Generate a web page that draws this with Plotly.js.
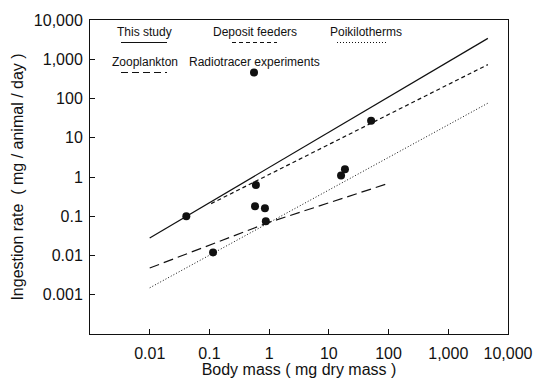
<!DOCTYPE html>
<html>
<head>
<meta charset="utf-8">
<script src="https://cdn.plot.ly/plotly-3.0.1.min.js"></script>
<style>html,body{margin:0;padding:0;background:#fff;}#chart{width:536px;height:378px;}</style>
</head>
<body>
<div id="chart"></div>
<script>
// Regression lines (body mass mg, ingestion rate mg/animal/day)
const thisStudyX = [0.01, 4600];
const thisStudyY = [0.028, 3400];
const depositX = [0.107, 4600];
const depositY = [0.21, 730];
const poikiloX = [0.01, 4600];
const poikiloY = [0.0015, 76];
const zooX = [0.01, 1, 100];
const zooY = [0.0048, 0.07, 0.69];
// Radiotracer experiments (points)
const radioX = [0.041, 0.115, 0.6, 0.58, 0.85, 0.88, 16, 18.6, 51];
const radioY = [0.1, 0.012, 0.63, 0.18, 0.16, 0.075, 1.1, 1.58, 27];
// Tick labels
const xTickVals = [0.01, 0.1, 1, 10, 100, 1000, 10000];
const xTickText = ["0.01", "0.1", "1", "10", "100", "1,000", "10,000"];
const yTickVals = [0.001, 0.01, 0.1, 1, 10, 100, 1000, 10000];
const yTickText = ["0.001", "0.01", "0.1", "1", "10", "100", "1,000", "10,000"];
// Legend labels
const legendNames = ["This study", "Deposit feeders", "Poikilotherms", "Zooplankton", "Radiotracer experiments"];

const FONT = "Liberation Sans, Arial, Helvetica, sans-serif";
const INK = "#111";

const traces = [
  {x: thisStudyX, y: thisStudyY, mode: "lines", line: {color: INK, width: 1.2}, name: legendNames[0]},
  {x: depositX, y: depositY, mode: "lines", line: {color: INK, width: 1.2, dash: "4px,3px"}, name: legendNames[1]},
  {x: poikiloX, y: poikiloY, mode: "lines", line: {color: INK, width: 1, dash: "1px,2px"}, name: legendNames[2]},
  {x: zooX, y: zooY, mode: "lines", line: {color: INK, width: 1.2, dash: "10px,5px"}, name: legendNames[3]},
  {x: radioX, y: radioY, mode: "markers", marker: {color: INK, size: 8}, name: legendNames[4]}
];

// Legend built from annotations and shapes (paper coordinates)
const L = 90, R = 508, T = 20, B = 334, W = 536, H = 378;
const px = v => (v - L) / (R - L);
const py = v => (B - v) / (B - T);

const legendItems = [
  {cx: 144.5, ty: 31.5, ly: 42.5, x0: 121, x1: 167, dash: "solid", w: 1.2, text: legendNames[0]},
  {cx: 254.5, ty: 31.5, ly: 42.5, x0: 232, x1: 277, dash: "4px,3px", w: 1.2, text: legendNames[1]},
  {cx: 366.3, ty: 31.5, ly: 42.5, x0: 337, x1: 388, dash: "1px,2px", w: 1, text: legendNames[2]},
  {cx: 144.5, ty: 61.5, ly: 72.5, x0: 121, x1: 167, dash: "7px,4px", w: 1.2, text: legendNames[3]}
];

const annotations = legendItems.map(it => ({
  xref: "paper", yref: "paper", x: px(it.cx), y: py(it.ty), text: it.text,
  showarrow: false, xanchor: "center", yanchor: "middle",
  font: {family: FONT, size: 12, color: INK}
}));
annotations.push({
  xref: "paper", yref: "paper", x: px(254.7), y: py(61.5), text: legendNames[4],
  showarrow: false, xanchor: "center", yanchor: "middle",
  font: {family: FONT, size: 12, color: INK}
});

const shapes = legendItems.map(it => ({
  type: "line", xref: "paper", yref: "paper",
  x0: px(it.x0), x1: px(it.x1), y0: py(it.ly), y1: py(it.ly),
  line: {color: INK, width: it.w, dash: it.dash}
}));
shapes.push({
  type: "circle", xref: "paper", yref: "paper",
  xsizemode: "pixel", ysizemode: "pixel",
  xanchor: px(254), yanchor: py(72.5),
  x0: -4, x1: 4, y0: -4, y1: 4,
  fillcolor: INK, line: {color: INK, width: 0}
});

const layout = {
  width: W, height: H,
  margin: {l: L, r: W - R, t: T, b: H - B, pad: 0},
  paper_bgcolor: "#fff", plot_bgcolor: "#fff",
  showlegend: false,
  font: {family: FONT, color: INK},
  xaxis: {
    type: "log", range: [-3, 4],
    tickvals: xTickVals, ticktext: xTickText,
    ticks: "inside", ticklen: 5, tickcolor: INK, tickwidth: 1,
    showline: true, linecolor: INK, linewidth: 1, mirror: true,
    showgrid: false, zeroline: false,
    tickfont: {family: FONT, size: 16, color: INK},
    ticklabelstandoff: 5,
    title: {text: "Body mass ( mg dry mass )", font: {family: FONT, size: 16, color: INK}, standoff: 3}
  },
  yaxis: {
    type: "log", range: [-4, 4],
    tickvals: yTickVals, ticktext: yTickText,
    ticks: "inside", ticklen: 5, tickcolor: INK, tickwidth: 1,
    showline: true, linecolor: INK, linewidth: 1, mirror: true,
    showgrid: false, zeroline: false,
    tickfont: {family: FONT, size: 16, color: INK},
    ticklabelstandoff: 3,
    title: {text: "Ingestion rate  ( mg / animal / day )", font: {family: FONT, size: 16, color: INK}, standoff: 6}
  },
  annotations: annotations,
  shapes: shapes
};

Plotly.newPlot("chart", traces, layout, {displayModeBar: false, staticPlot: true});
</script>
</body>
</html>
